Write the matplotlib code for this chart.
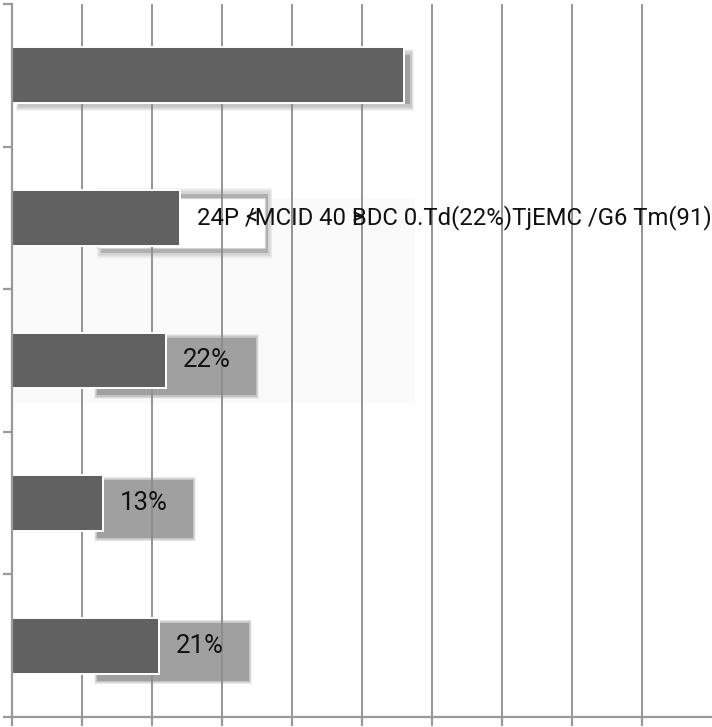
import matplotlib
matplotlib.use('Agg')
import matplotlib.pyplot as plt
from matplotlib.patches import Rectangle

# values in percent (top to bottom)
values = [56, 24, 22, 13, 21]
labels = ['', '24P /MCID 40 BDC 0.Td(22%)TjEMC /G6 Tm(91)', '22%', '13%', '21%']
x_ticks = [0, 10, 20, 30, 40, 50, 60, 70, 80, 90]
y_ticks = [-0.5, 0.5, 1.5, 2.5, 3.5, 4.5]

BAR = '#616161'
SHADOW = '#a0a0a0'
AXIS = '#9a9a9a'
GRID = '#8c8c8c'

plt.rcParams['font.family'] = ['Roboto', 'DejaVu Sans']

fig = plt.figure(figsize=(7.12, 7.27), dpi=100)
ax = fig.add_axes([12 / 712, 10 / 727, 700 / 712, 713 / 727])
ax.set_xlim(0, 100)
ax.set_ylim(4.5, -0.5)


def soft_box(x0, x1, y0, y1, color, sx=0.5, sy=0.025, z=1, layers=8, a=0.1):
    # crude blur: a solid core plus several faint wider copies
    for i in range(layers):
        k = (layers - i) / layers
        ax.add_patch(Rectangle((x0 - sx * k, y0 - sy * k), (x1 - x0) + 2 * sx * k,
                               (y1 - y0) + 2 * sy * k, facecolor=color, alpha=a,
                               lw=0, zorder=z))
    ax.add_patch(Rectangle((x0 + sx * 0.3, y0 + sy * 0.3), (x1 - x0) - 0.6 * sx,
                           (y1 - y0) - 0.6 * sy, facecolor=color, lw=0, zorder=z))


# faint panel behind rows 2-3
ax.add_patch(Rectangle((0, 1 - 0.137), 57.6, 1.437, facecolor='#fafafa', lw=0, zorder=0.5))

for i, (v, lab) in enumerate(zip(values, labels)):
    if i == 0:
        soft_box(1.0, v + 1.0, i - 0.15, i + 0.215, SHADOW, sx=0.4, sy=0.035)
    elif i == 1:
        soft_box(12.6, v + 12.7, i - 0.18, i + 0.255, '#b0b0b0', sx=0.5, sy=0.03, a=0.08)
        ax.add_patch(Rectangle((12.1, i - 0.14), v, 0.35, facecolor='white',
                               edgecolor='#d0d0d0', lw=0.8, zorder=1.2))
    else:
        soft_box(12.1, v + 12.9, i - 0.165, i + 0.25, SHADOW, sx=0.35, sy=0.018)

ax.barh(range(len(values)), values, height=0.39, color=BAR, edgecolor='white',
        linewidth=1.4, zorder=3)

for i, (v, lab) in enumerate(zip(values, labels)):
    if not lab:
        continue
    fs = 18.5 if i != 1 else 17.2
    ax.text(v + 2.4, i, lab, fontsize=fs, va='center', ha='left', color='#111111', zorder=2.5)
    if i == 1:
        # stray glyphs drawn over the broken label
        p1 = ax.text(v + 2.4, i, '24P ', fontsize=fs, va='center', ha='left', alpha=0)
        p2 = ax.text(v + 2.4, i, '24P /MCID 40 ', fontsize=fs, va='center', ha='left', alpha=0)
        ax.annotate('<', xy=(1, 0.5), xycoords=p1, fontsize=fs, va='center', ha='left',
                    color='#111111', zorder=2.5)
        ax.annotate('>', xy=(1, 0.5), xycoords=p2, fontsize=fs, va='center', ha='left',
                    color='#111111', zorder=2.5)

for x in x_ticks[1:]:
    ax.axvline(x, color=GRID, lw=1.3, zorder=2)

for s in ['top', 'right']:
    ax.spines[s].set_visible(False)
for s in ['left', 'bottom']:
    ax.spines[s].set_color(AXIS)
    ax.spines[s].set_linewidth(1.6)
    ax.spines[s].set_zorder(4)

ax.set_xticks(x_ticks)
ax.set_yticks(y_ticks)
ax.set_xticklabels([])
ax.set_yticklabels([])
ax.tick_params(axis='both', direction='out', length=6.5, width=1.6, color=AXIS)

fig.savefig('out.png', dpi=100)
